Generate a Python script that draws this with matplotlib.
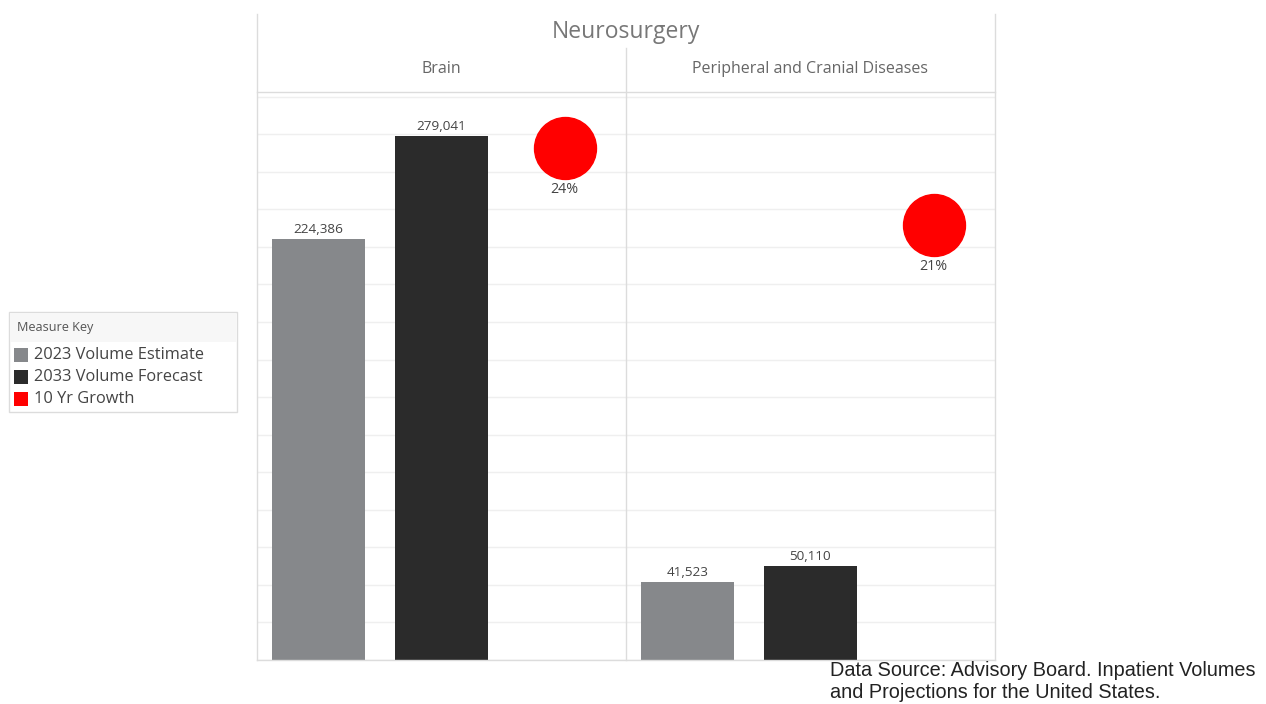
import matplotlib.pyplot as plt
from matplotlib.lines import Line2D
from matplotlib.patches import Rectangle

plt.rcParams['font.family'] = ['Open Sans', 'DejaVu Sans']

# data
panels = ["Brain", "Peripheral and Cranial Diseases"]
vol_2023 = [224386, 41523]
vol_2033 = [279041, 50110]
growth = [v33 / v23 - 1 for v23, v33 in zip(vol_2023, vol_2033)]
measures = ["2023 Volume Estimate", "2033 Volume Forecast", "10 Yr Growth"]
colors = ["#86888b", "#2b2b2b", "#ff0000"]

W, H = 1266, 704
fig = plt.figure(figsize=(W / 100, H / 100), dpi=100)

def fx(px):
    return px / W

def fy(py):
    return 1 - py / H

grid_c = "#efefef"
line_c = "#dcdcdc"
left, mid, right, top_plot, base = 257, 626, 995, 92, 660

for i, name in enumerate(panels):
    x0 = left if i == 0 else mid
    ax = fig.add_axes([fx(x0), fy(base), fx(mid - left), (base - top_plot) / H])
    ax2 = ax.twinx()
    ax.set_xlim(-0.5, 2.5)
    ax.set_ylim(0, 302500)
    ax.set_yticks(range(0, 302500, 20000))
    ax.yaxis.grid(True, color=grid_c, lw=1)
    ax.set_axisbelow(True)
    ax.tick_params(left=False, right=False, bottom=False,
                   labelleft=False, labelbottom=False)
    for s in ax.spines.values():
        s.set_visible(False)
    vals = [vol_2023[i], vol_2033[i]]
    bars = ax.bar([0, 1], vals, width=0.75, color=colors[:2], zorder=2)
    for b, v in zip(bars, vals):
        ax.annotate(f"{v:,}", (b.get_x() + b.get_width() / 2, v), xytext=(0, 2),
                    textcoords="offset points", ha="center", va="bottom",
                    fontsize=9.7, color="#444444")
    ax2.set_ylim(0, 0.27)
    ax2.axis("off")
    ax2.scatter([2], [growth[i]], s=1990, color=colors[2], zorder=3)
    ax2.annotate(f"{growth[i]:.0%}", (2, growth[i]), xytext=(0, -30),
                 textcoords="offset points", ha="center", va="center",
                 fontsize=10.3, color="#444444")
    fig.text(fx(x0 + (mid - left) / 2), fy(69), name, ha="center", va="center",
             fontsize=11.5, color="#666666")

# frame lines
for xs, ys in [((left, left), (14, base)), ((right, right), (14, base)),
               ((mid, mid), (48, base)), ((left, right), (top_plot, top_plot)),
               ((left, right), (base, base))]:
    fig.add_artist(Line2D([fx(x) for x in xs], [fy(y) for y in ys],
                          color=line_c, lw=1))

fig.text(fx(mid), fy(32), "Neurosurgery", ha="center", va="center",
         fontsize=16.5, color="#777777")

# legend box
fig.add_artist(Rectangle((fx(9), fy(412)), fx(228), (412 - 312) / H,
                         facecolor="white", edgecolor=line_c, lw=1))
fig.add_artist(Rectangle((fx(10), fy(342)), fx(226), (342 - 313) / H,
                         facecolor="#f7f7f7", edgecolor="none"))
fig.text(fx(17), fy(328), "Measure Key", ha="left", va="center",
         fontsize=9.1, color="#555555")
for k, (m, c) in enumerate(zip(measures, colors)):
    y = 355 + k * 22
    fig.add_artist(Rectangle((fx(14), fy(y + 7)), fx(14), 14 / H,
                             facecolor=c, edgecolor="none"))
    fig.text(fx(34), fy(y), m, ha="left", va="center", fontsize=11.8,
             color="#444444")

fig.text(fx(830), fy(670), "Data Source: Advisory Board. Inpatient Volumes",
         ha="left", va="center", fontsize=14.3, family="Liberation Sans",
         color="#222222")
fig.text(fx(830), fy(693), "and Projections for the United States.",
         ha="left", va="center", fontsize=14.3, family="Liberation Sans",
         color="#222222")

fig.savefig("out.png", dpi=100)
